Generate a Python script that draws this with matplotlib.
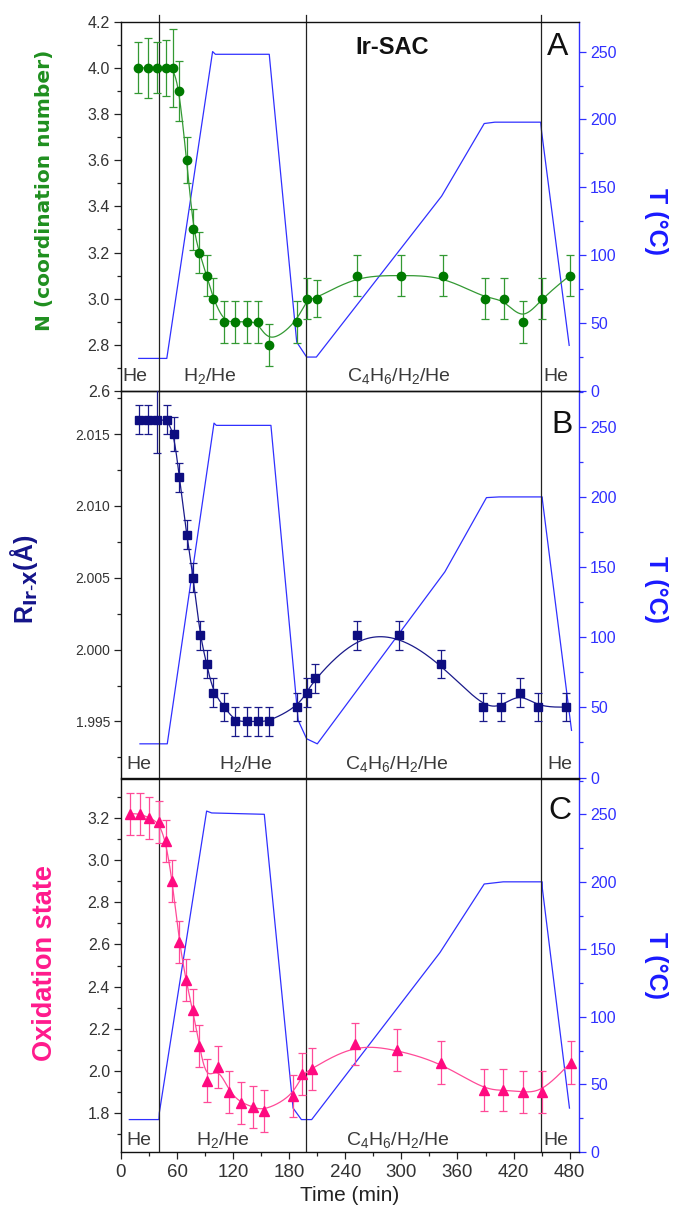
#! /usr/bin/env python3

import numpy as np
import matplotlib
matplotlib.use('Agg')
import matplotlib.pyplot as plt
from matplotlib.ticker import MultipleLocator, FormatStrFormatter

plt.rcParams['font.family'] = ['Liberation Sans', 'DejaVu Sans']
plt.rcParams['mathtext.default'] = 'regular'

# panel A: coordination number
time_N = [18.5, 28.5, 38, 48, 56, 62.4, 70.2, 77.4, 83.8, 91.6, 98.7, 110, 122, 134.4,
          146.8, 158.6, 188.6, 198.6, 209.3, 252, 299.5, 344, 389.3, 409.6, 429.6, 450, 480]
N = [4.0, 4.0, 4.0, 4.0, 4.0, 3.9, 3.6, 3.3, 3.2, 3.1, 3.0, 2.9, 2.9, 2.9,
     2.9, 2.8, 2.9, 3.0, 3.0, 3.1, 3.1, 3.1, 3.0, 3.0, 2.9, 3.0, 3.1]
N_err = [0.11, 0.13, 0.11, 0.12, 0.17, 0.13, 0.10, 0.09, 0.09, 0.09, 0.09, 0.09, 0.09, 0.09,
         0.09, 0.09, 0.09, 0.09, 0.08, 0.09, 0.09, 0.09, 0.09, 0.09, 0.09, 0.09, 0.09]

# panel B: Ir-X distance
time_R = [19.3, 29.2, 38.8, 49.5, 56.7, 62.4, 70.2, 77.4, 84.5, 91.6, 98.7, 110.5, 122.3, 134.4,
          146.8, 158.3, 187.9, 198.6, 207.8, 252.8, 297.7, 342.2, 386.8, 406.4, 426.7, 446.3, 475.6]
R = [2.016, 2.016, 2.016, 2.016, 2.015, 2.012, 2.008, 2.005, 2.001, 1.999, 1.997, 1.996, 1.995, 1.995,
     1.995, 1.995, 1.996, 1.997, 1.998, 2.001, 2.001, 1.999, 1.996, 1.996, 1.997, 1.996, 1.996]
R_err = [0.001, 0.001, 0.0023, 0.001, 0.0012, 0.001, 0.001, 0.001, 0.001, 0.001, 0.001, 0.001, 0.001, 0.001,
         0.001, 0.001, 0.001, 0.001, 0.001, 0.001, 0.001, 0.001, 0.001, 0.001, 0.001, 0.001, 0.001]

# panel C: oxidation state
time_ox = [9.6, 20.3, 30.3, 40.3, 47.8, 54.9, 62.4, 69.5, 76.7, 83.8, 91.6, 104, 115.8, 128.3,
           140.8, 152.9, 183.6, 193.6, 204, 250.3, 295.5, 342.2, 388.6, 408.9, 430.3, 450.6, 481]
ox = [3.22, 3.22, 3.20, 3.18, 3.09, 2.90, 2.61, 2.43, 2.29, 2.12, 1.955, 2.02, 1.90, 1.85,
      1.83, 1.81, 1.88, 1.985, 2.01, 2.13, 2.10, 2.04, 1.91, 1.91, 1.90, 1.90, 2.04]
ox_err = [0.1] * len(ox)

# temperature programme as recorded with each panel
time_TA = [19, 49, 98, 101, 158.6, 188, 198.6, 209, 343, 388.6, 400, 449, 450, 479.5]
T_A = [24, 24, 250, 248, 248, 36, 25, 25, 143.5, 197, 198, 198, 191, 33.6]
time_TB = [20.3, 49.5, 99.5, 102, 160.4, 189.6, 198.6, 210, 346.5, 391, 404.6, 450.6, 451, 482]
T_B = [24, 24, 252.6, 251, 251, 40.7, 27.6, 24, 146.6, 199.5, 200, 200, 197, 33.6]
time_TC = [8.9, 40.6, 41, 91.6, 97, 153.3, 184.1, 193, 204, 341.2, 388.6, 408.9, 450.6, 450.8, 479.8]
T_C = [24, 24, 29, 252.4, 251, 250, 32.5, 24, 24, 147.6, 198.4, 200, 200, 195, 32.5]

# gas switches
switches = [41, 198, 449]
gas_labels = ['He', r'H$_2$/He', r'C$_4$H$_6$/H$_2$/He', 'He']


def bspline(x, y, n=30):
  # cubic uniform B-spline with the data as control points (like Origin's spline connect)
  x = np.asarray(x, float)
  y = np.asarray(y, float)
  px = np.r_[x[0], x[0], x, x[-1], x[-1]]
  py = np.r_[y[0], y[0], y, y[-1], y[-1]]
  t = np.linspace(0, 1, n)
  b0 = (1 - t)**3 / 6
  b1 = (3*t**3 - 6*t**2 + 4) / 6
  b2 = (-3*t**3 + 3*t**2 + 3*t + 1) / 6
  b3 = t**3 / 6
  xs, ys = [], []
  for i in range(len(px) - 3):
    xs.append(b0*px[i] + b1*px[i+1] + b2*px[i+2] + b3*px[i+3])
    ys.append(b0*py[i] + b1*py[i+1] + b2*py[i+2] + b3*py[i+3])
  return np.concatenate(xs), np.concatenate(ys)


blue = '#3030ff'
tick_grey = '#333333'

fig = plt.figure(figsize=(6.75, 12.17), dpi=100)

left = 121/675
width = (579 - 121)/675

panels = [
  dict(rect=[left, 1 - 391/1217, width, 369.3/1217],
       t=time_N, y=N, err=N_err, tT=time_TA, T=T_A,
       ylim=(2.6, 4.2), major=0.2, minor=0.1, fmt='%.1f', tlim=(0, 272),
       mk='o', ms=6, c_mk='#007a00', c_ln='#339933', letter='A', lsize=11.5,
       gas_x=[15, 95, 297, 465], gas_y=0.027),
  dict(rect=[left, 1 - 777.5/1217, width, 386.5/1217],
       t=time_R, y=R, err=R_err, tT=time_TB, T=T_B,
       ylim=(1.9911, 2.018), major=0.005, minor=0.0025, fmt='%.3f', tlim=(0, 275.5),
       mk='s', ms=5.5, c_mk='#0d0d80', c_ln='#1a1a8a', letter='B', lsize=10,
       gas_x=[19, 134, 295, 470], gas_y=0.022),
  dict(rect=[left, 1 - 1152/1217, width, 373.5/1217],
       t=time_ox, y=ox, err=ox_err, tT=time_TC, T=T_C,
       ylim=(1.616, 3.387), major=0.2, minor=0.1, fmt='%.1f', tlim=(0, 276.5),
       mk='^', ms=6.5, c_mk='#ff0a80', c_ln='#ff4a98', letter='C', lsize=11.5,
       gas_x=[19, 109, 296, 465], gas_y=0.019),
]

axes = []
for k, p in enumerate(panels):
  ax = fig.add_axes(p['rect'])
  ax2 = ax.twinx()
  ax.set_zorder(ax2.get_zorder() + 1)
  ax.patch.set_visible(False)

  # temperature on the right axis
  ax2.plot(p['tT'], p['T'], color=blue, lw=0.9)
  ax2.set_ylim(p['tlim'])
  ax2.yaxis.set_major_locator(MultipleLocator(50))
  ax2.yaxis.set_minor_locator(MultipleLocator(25))
  ax2.tick_params(axis='y', which='both', direction='out', colors=blue, labelsize=11.5,
                  width=0.9, pad=3)
  ax2.tick_params(axis='y', which='major', length=5)
  ax2.tick_params(axis='y', which='minor', length=3)
  for s in ['left', 'top', 'bottom']:
    ax2.spines[s].set_visible(False)
  ax2.spines['right'].set_color(blue)
  ax2.spines['right'].set_linewidth(1.0)

  # data with error bars and spline
  xs, ys = bspline(p['t'], p['y'])
  ax.plot(xs, ys, color=p['c_ln'], lw=0.9, zorder=2)
  ax.errorbar(p['t'], p['y'], yerr=p['err'], fmt='none', ecolor=p['c_ln'],
              elinewidth=0.9, capsize=3, capthick=0.9, zorder=3)
  ax.plot(p['t'], p['y'], p['mk'], color=p['c_mk'], ms=p['ms'], mec=p['c_mk'], zorder=4)

  for x in switches:
    ax.axvline(x, color='#222222', lw=0.9, zorder=1,
               ymax=1.018 if k == 0 else 1.0, clip_on=(k != 0))

  ax.set_xlim(0, 490)
  ax.set_ylim(p['ylim'])
  ax.yaxis.set_major_locator(MultipleLocator(p['major']))
  ax.yaxis.set_minor_locator(MultipleLocator(p['minor']))
  ax.yaxis.set_major_formatter(FormatStrFormatter(p['fmt']))
  ax.tick_params(axis='y', which='both', direction='out', colors='#222222',
                 labelcolor=tick_grey, labelsize=p['lsize'], width=0.9, pad=3)
  ax.tick_params(axis='y', which='major', length=5)
  ax.tick_params(axis='y', which='minor', length=3)
  ax.spines['right'].set_visible(False)
  for s in ['left', 'top', 'bottom']:
    ax.spines[s].set_linewidth(1.0)
    ax.spines[s].set_color('#111111')

  if k < 2:
    ax.tick_params(axis='x', which='both', bottom=False, labelbottom=False)
  else:
    ax.xaxis.set_major_locator(MultipleLocator(60))
    ax.xaxis.set_minor_locator(MultipleLocator(30))
    ax.tick_params(axis='x', which='both', direction='out', colors='#222222',
                   labelcolor=tick_grey, labelsize=13.5, width=0.9)
    ax.tick_params(axis='x', which='major', length=5)
    ax.tick_params(axis='x', which='minor', length=3)
    ax.set_xlabel('Time (min)', fontsize=15, color='#222222', labelpad=4)

  # gas atmosphere labels
  for gx, g in zip(p['gas_x'], gas_labels):
    ax.text(gx, p['gas_y'], g, transform=ax.get_xaxis_transform(), ha='center',
            va='baseline', fontsize=14, color='#3a3a3a', zorder=5)

  axes.append(ax)

# panel letters and title
fig.text(558/675, 1 - 47/1217, 'A', fontsize=23, ha='center', va='center', color='#111111')
fig.text(562/675, 1 - 425/1217, 'B', fontsize=23, ha='center', va='center', color='#111111')
fig.text(560/675, 1 - 811/1217, 'C', fontsize=23, ha='center', va='center', color='#111111')
fig.text(392/675, 1 - 48/1217, 'Ir-SAC', fontsize=17, fontweight='bold', ha='center',
         va='center', color='#111111')

# axis titles
fig.text(45/675, 1 - 190/1217, 'N (coordination number)', rotation=90, ha='center', va='center',
         fontsize=14.5, fontweight='bold', color='#1f8f1f', family=['DejaVu Sans'])
fig.text(24/675, 1 - 579/1217, r'R$_{\mathbf{Ir\text{-}X}}$(Å)', rotation=90, ha='center',
         va='center', fontsize=18, fontweight='bold', color='#14148a')
fig.text(45/675, 1 - 963/1217, 'Oxidation state', rotation=90, ha='center', va='center',
         fontsize=19.5, fontweight='bold', color='#ff1a8c')
for yc in [222, 590, 965]:
  fig.text(656/675, 1 - yc/1217, 'T (°C)', rotation=270, ha='center', va='center',
           fontsize=18, fontweight='bold', color='#1a1aff')

fig.savefig('out.png', dpi=100)
